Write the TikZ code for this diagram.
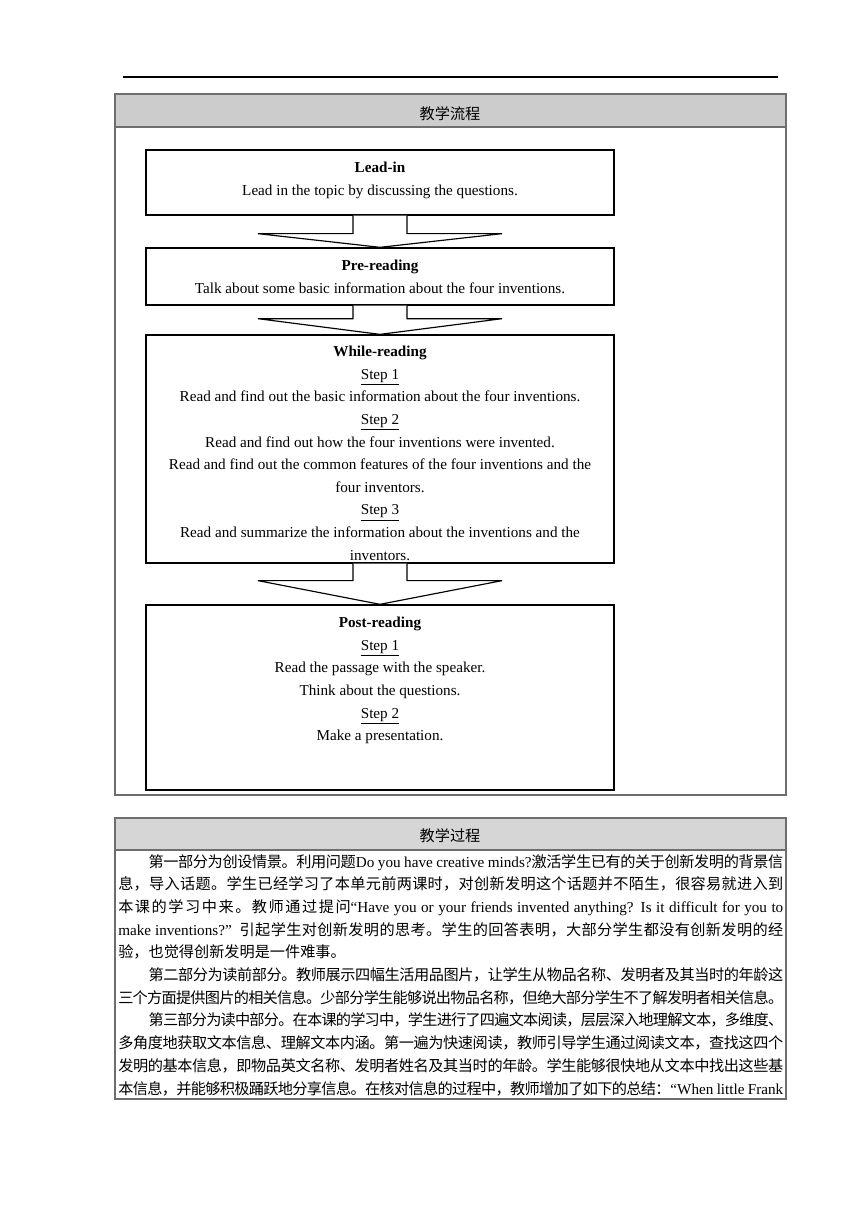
\documentclass[tikz,border=0pt]{standalone}
\usepackage{fontspec}
\setmainfont{Liberation Serif}
\newfontfamily\cjk{Noto Sans CJK SC}
\usetikzlibrary{calc}
\definecolor{headgray}{HTML}{CCCCCC}
\definecolor{headgraytwo}{HTML}{D6D6D6}
\definecolor{tabborder}{HTML}{6E6E6E}
% inter-character glue for CJK so that lines can be justified
\newXeTeXintercharclass\zhclass
\newcount\zhcnt
\newcommand\setzhrange[2]{\zhcnt=#1\relax
  \loop \XeTeXcharclass\zhcnt=\zhclass\relax
  \ifnum\zhcnt<#2\relax \advance\zhcnt by 1 \repeat}
\setzhrange{"4E00}{"9FFF}
\setzhrange{"3000}{"303F}
\setzhrange{"FF00}{"FF60}
\XeTeXinterchartoks\zhclass\zhclass={\hskip 0pt plus 3pt minus 1.2pt\relax}
\newcommand\zh[1]{{\cjk #1}}
\newcommand\bodyfont{\fontsize{10.5}{15}\selectfont\XeTeXinterchartokenstate=1\relax}
\newcommand\boxfont{\fontsize{10.5}{15.65}\selectfont\lineskiplimit=-20pt\relax}
\newcommand\fullline[1]{\hbox to 460.3pt{#1}}
\newcommand\indentzh{\hskip 21pt\relax}
\tikzset{
  flowbox/.style={draw=black, line width=0.9pt, minimum width=323.9pt, inner sep=0pt},
  boxtext/.style={align=center, inner sep=0pt, anchor=north, font=\boxfont},
  barrow/.style={draw=black, line width=0.8pt, fill=white, line join=miter},
  tabline/.style={draw=tabborder, line width=1pt},
  bodyline/.style={anchor=base west, inner sep=0pt, font=\bodyfont},
  headtext/.style={inner sep=0pt, font=\cjk\fontsize{10.5}{12}\selectfont}
}
\newcommand\blockarrow[3]{%
  \draw[barrow] ($(#1.south)+(-27,0)$) -- ($(#1.south)+(-27,#3)$) -- ($(#1.south)+(-122,#3)$)
    -- (#2.north) -- ($(#1.south)+(122,#3)$) -- ($(#1.south)+(27,#3)$) -- ($(#1.south)+(27,0)$);}
\begin{document}
\begin{tikzpicture}[x=0.6922pt,y=-0.6922pt]
\useasboundingbox[fill=white] (0,0) rectangle (860,1216);
% top rule
\draw[line width=0.8pt] (123,77) -- (778,77);
% first table
\fill[headgray] (115,94) rectangle (786,127);
\draw[tabline] (115,94) rectangle (786,795);
\draw[tabline] (115,127) -- (786,127);
\node[headtext] (h1) at (450,113.5) {教学流程};
% flow boxes
\node[flowbox, minimum height=45.0pt] (b1) at (380,182.5) {};
\node[flowbox, minimum height=39.5pt] (b2) at (380,276.5) {};
\node[flowbox, minimum height=157.8pt] (b3) at (380,449) {};
\node[flowbox, minimum height=128.1pt] (b4) at (380,697.5) {};
\node[boxtext] (t1) at ($(b1.north)+(0,12.5)$) {\textbf{Lead-in}\\Lead in the topic by discussing the questions.};
\node[boxtext] (t2) at ($(b2.north)+(0,12.5)$) {\textbf{Pre-reading}\\Talk about some basic information about the four inventions.};
\node[boxtext] (t3) at ($(b3.north)+(0,11.5)$) {\textbf{While-reading}\\\underline{Step 1}\\Read and find out the basic information about the four inventions.\\\underline{Step 2}\\Read and find out how the four inventions were invented.\\Read and find out the common features of the four inventions and the\\four inventors.\\\underline{Step 3}\\Read and summarize the information about the inventions and the\\inventors.};
\node[boxtext] (t4) at ($(b4.north)+(0,12.5)$) {\textbf{Post-reading}\\\underline{Step 1}\\Read the passage with the speaker.\\Think about the questions.\\\underline{Step 2}\\Make a presentation.};
% block arrows
\blockarrow{b1}{b2}{18}
\blockarrow{b2}{b3}{13}
\blockarrow{b3}{b4}{17}
% second table
\fill[headgraytwo] (115,818) rectangle (786,850);
\draw[tabline] (115,818) rectangle (786,1099);
\draw[tabline] (115,850) -- (786,850);
\node[headtext] (h2) at (450,836) {教学过程};
\node[bodyline] (l1) at (118,867) {\fullline{\indentzh\zh{第一部分为创设情景。利用问题}Do you have creative minds?\zh{激活学生已有的关于创新发明的背景信}}};
\node[bodyline] (l2) at (118,889.7) {\fullline{\zh{息，导入话题。学生已经学习了本单元前两课时，对创新发明这个话题并不陌生，很容易就进入到}}};
\node[bodyline] (l3) at (118,912.4) {\fullline{\zh{本课的学习中来。教师通过提问}“Have you or your friends invented anything? Is it difficult for you to}};
\node[bodyline] (l4) at (118,935.1) {\fullline{make inventions?”\ \ \zh{引起学生对创新发明的思考。学生的回答表明，大部分学生都没有创新发明的经}}};
\node[bodyline] (l5) at (118,957.8) {\zh{验，也觉得创新发明是一件难事。}};
\node[bodyline] (l6) at (118,980.5) {\fullline{\indentzh\zh{第二部分为读前部分。教师展示四幅生活用品图片，让学生从物品名称、发明者及其当时的年龄这}}};
\node[bodyline] (l7) at (118,1003.2) {\fullline{\zh{三个方面提供图片的相关信息。少部分学生能够说出物品名称，但绝大部分学生不了解发明者相关信息。}}};
\node[bodyline] (l8) at (118,1025.9) {\fullline{\indentzh\zh{第三部分为读中部分。在本课的学习中，学生进行了四遍文本阅读，层层深入地理解文本，多维度、}}};
\node[bodyline] (l9) at (118,1048.6) {\fullline{\zh{多角度地获取文本信息、理解文本内涵。第一遍为快速阅读，教师引导学生通过阅读文本，查找这四个}}};
\node[bodyline] (l10) at (118,1071.3) {\fullline{\zh{发明的基本信息，即物品英文名称、发明者姓名及其当时的年龄。学生能够很快地从文本中找出这些基}}};
\node[bodyline] (l11) at (118,1094) {\fullline{\zh{本信息，并能够积极踊跃地分享信息。在核对信息的过程中，教师增加了如下的总结：}“When little Frank}};
\end{tikzpicture}
\end{document}
